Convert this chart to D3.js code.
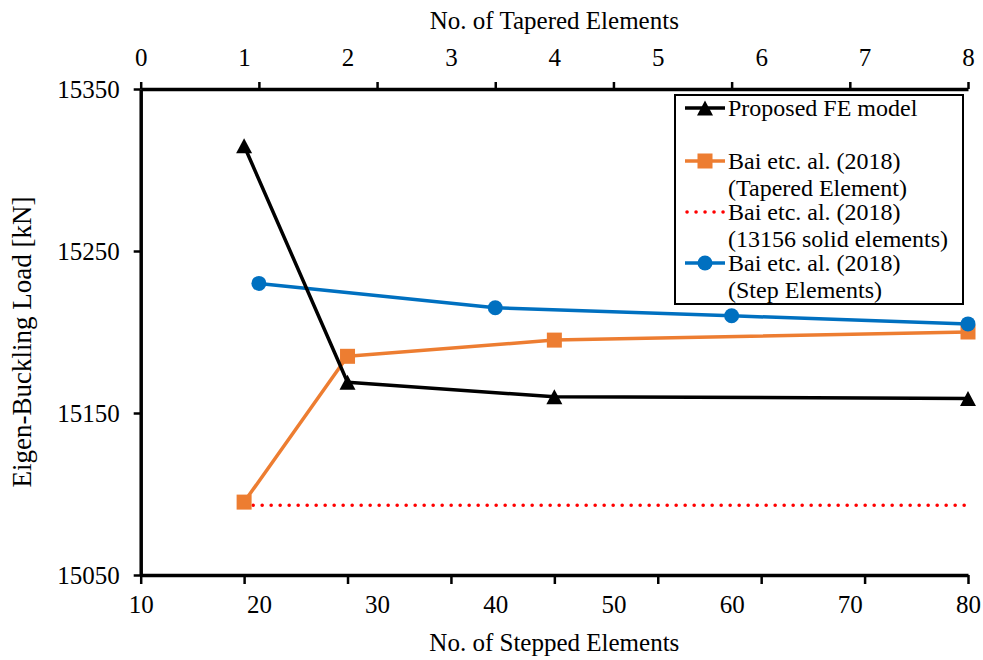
<!DOCTYPE html>
<html>
<head>
<meta charset="utf-8">
<script src="https://cdn.jsdelivr.net/npm/d3@7"></script>
<style>
  html, body { margin: 0; padding: 0; background: #fff; }
  svg { display: block; }
  text { font-family: "Liberation Serif", "Times New Roman", serif; fill: #000; }
</style>
</head>
<body>
<div id="chart"></div>
<script>
// ---------------- data ----------------
const taperedX   = [1, 2, 4, 8];
const proposedFE = [15315, 15169, 15160, 15159];
const baiTapered = [15095, 15185, 15195, 15200];
const steppedX   = [20, 40, 60, 80];
const baiStep    = [15230, 15215, 15210, 15205];
const solidX     = [1, 8];
const baiSolid   = [15093, 15093];

const yTicks      = [15050, 15150, 15250, 15350];
const taperTicks  = [0, 1, 2, 3, 4, 5, 6, 7, 8];
const stepTicks   = [10, 20, 30, 40, 50, 60, 70, 80];

const topTitle    = "No. of Tapered Elements";
const bottomTitle = "No. of Stepped Elements";
const yTitle      = "Eigen-Buckling Load [kN]";

const legendLines = [
  ["Proposed FE model"],
  ["Bai etc. al. (2018)", "(Tapered Element)"],
  ["Bai etc. al. (2018)", "(13156 solid elements)"],
  ["Bai etc. al. (2018)", "(Step Elements)"]
];

// ---------------- layout ----------------
const W = 983, H = 660;
const pL = 140.7, pR = 968, pT = 89, pB = 575;
const FONT = 25;

const svg = d3.select("#chart").append("svg").attr("width", W).attr("height", H);

const xT = d3.scaleLinear().domain([0, 8]).range([pL, pR]);
const xS = d3.scaleLinear().domain([10, 80]).range([pL, pR]);
const y  = d3.scaleLinear().domain([15050, 15350]).range([pB, pT]);

const COLORS = { black: "#000000", orange: "#ED7D31", red: "#FF0000", blue: "#0070C0" };

// ---------------- axes ----------------
function styleAxis(g, sw) {
  g.attr("font-family", "Liberation Serif");
  g.select(".domain").attr("stroke", "#000").attr("stroke-width", sw);
  g.selectAll(".tick line").attr("stroke", "#000").attr("stroke-width", 2.5);
  g.selectAll(".tick text").attr("font-size", FONT);
}

// left axis
const gy = svg.append("g").attr("transform", `translate(${pL},0)`)
  .call(d3.axisLeft(y).tickValues(yTicks).tickFormat(d3.format("d")).tickSize(7).tickPadding(14).tickSizeOuter(0));
styleAxis(gy, 3.5);

// top axis: tick marks at stepped positions, labels at tapered positions
const gtTicks = svg.append("g").attr("transform", `translate(0,${pT})`)
  .call(d3.axisTop(xS).tickValues(stepTicks).tickFormat("").tickSize(7).tickSizeOuter(0));
styleAxis(gtTicks, 3.5);
const gtLabels = svg.append("g").attr("transform", `translate(0,${pT})`)
  .call(d3.axisTop(xT).tickValues(taperTicks).tickFormat(d3.format("d")).tickSize(0).tickPadding(23));
gtLabels.select(".domain").remove();
styleAxis(gtLabels, 0);

// bottom axis: tick marks at tapered positions, labels at stepped positions
const gbTicks = svg.append("g").attr("transform", `translate(0,${pB})`)
  .call(d3.axisBottom(xT).tickValues(taperTicks).tickFormat("").tickSize(9).tickSizeOuter(0));
styleAxis(gbTicks, 3.5);
const gbLabels = svg.append("g").attr("transform", `translate(0,${pB})`)
  .call(d3.axisBottom(xS).tickValues(stepTicks).tickFormat(d3.format("d")).tickSize(0).tickPadding(20));
gbLabels.select(".domain").remove();
styleAxis(gbLabels, 0);

// axis titles
svg.append("text").attr("x", (pL + pR) / 2).attr("y", 29)
  .attr("text-anchor", "middle").attr("font-size", FONT).text(topTitle);
svg.append("text").attr("x", (pL + pR) / 2).attr("y", 651)
  .attr("text-anchor", "middle").attr("font-size", FONT).text(bottomTitle);
svg.append("text").attr("transform", `translate(31,342) rotate(-90)`)
  .attr("text-anchor", "middle").attr("font-size", 27).text(yTitle);

// ---------------- series ----------------
const line = (xs, sx) => d3.line().x((d, i) => sx(xs[i])).y(d => y(d));

function triPath(cx, cy, w, h) {
  return `M${cx},${cy - h / 2}L${cx + w / 2},${cy + h / 2}L${cx - w / 2},${cy + h / 2}Z`;
}

// red dotted (solid elements)
svg.append("path").datum(baiSolid).attr("d", line(solidX, xT))
  .attr("fill", "none").attr("stroke", COLORS.red).attr("stroke-width", 3.5)
  .attr("stroke-linecap", "round").attr("stroke-dasharray", "0.1 8.9");

// orange tapered
svg.append("path").datum(baiTapered).attr("d", line(taperedX, xT))
  .attr("fill", "none").attr("stroke", COLORS.orange).attr("stroke-width", 3.5).attr("stroke-linejoin", "round");
svg.selectAll(".sq").data(baiTapered).enter().append("rect")
  .attr("x", (d, i) => xT(taperedX[i]) - 7.5).attr("y", d => y(d) - 7.5)
  .attr("width", 15).attr("height", 15).attr("fill", COLORS.orange);

// blue stepped
svg.append("path").datum(baiStep).attr("d", line(steppedX, xS))
  .attr("fill", "none").attr("stroke", COLORS.blue).attr("stroke-width", 3.5).attr("stroke-linejoin", "round");
svg.selectAll(".ci").data(baiStep).enter().append("circle")
  .attr("cx", (d, i) => xS(steppedX[i])).attr("cy", d => y(d)).attr("r", 7.5).attr("fill", COLORS.blue);

// black proposed
svg.append("path").datum(proposedFE).attr("d", line(taperedX, xT))
  .attr("fill", "none").attr("stroke", COLORS.black).attr("stroke-width", 3.5).attr("stroke-linejoin", "round");
svg.selectAll(".tri").data(proposedFE).enter().append("path")
  .attr("d", (d, i) => triPath(xT(taperedX[i]), y(d), 16, 15)).attr("fill", COLORS.black);

// ---------------- legend ----------------
const lg = svg.append("g");
lg.append("rect").attr("x", 675).attr("y", 95).attr("width", 288).attr("height", 209)
  .attr("fill", "#fff").attr("stroke", "#000").attr("stroke-width", 2);

const rowY = [108, 161, 212, 263];
const lineGap = 27;
const sx0 = 685, sx1 = 725, tx = 728;
const legColors = [COLORS.black, COLORS.orange, COLORS.red, COLORS.blue];

legendLines.forEach((lines, k) => {
  const yy = rowY[k];
  const ln = lg.append("line").attr("x1", sx0).attr("x2", sx1).attr("y1", yy).attr("y2", yy)
    .attr("stroke", legColors[k]).attr("stroke-width", 3.5);
  const cx = (sx0 + sx1) / 2;
  if (k === 0) lg.append("path").attr("d", triPath(cx, yy, 16, 15)).attr("fill", COLORS.black);
  if (k === 1) lg.append("rect").attr("x", cx - 7.5).attr("y", yy - 7.5).attr("width", 15).attr("height", 15).attr("fill", COLORS.orange);
  if (k === 2) ln.attr("stroke-linecap", "round").attr("stroke-dasharray", "0.1 8.9").attr("x1", sx0 + 2);
  if (k === 3) lg.append("circle").attr("cx", cx).attr("cy", yy).attr("r", 7.5).attr("fill", COLORS.blue);
  lines.forEach((t, j) => {
    lg.append("text").attr("x", tx).attr("y", yy + j * lineGap).attr("dy", "0.33em")
      .attr("font-size", 24).text(t);
  });
});
</script>
</body>
</html>
